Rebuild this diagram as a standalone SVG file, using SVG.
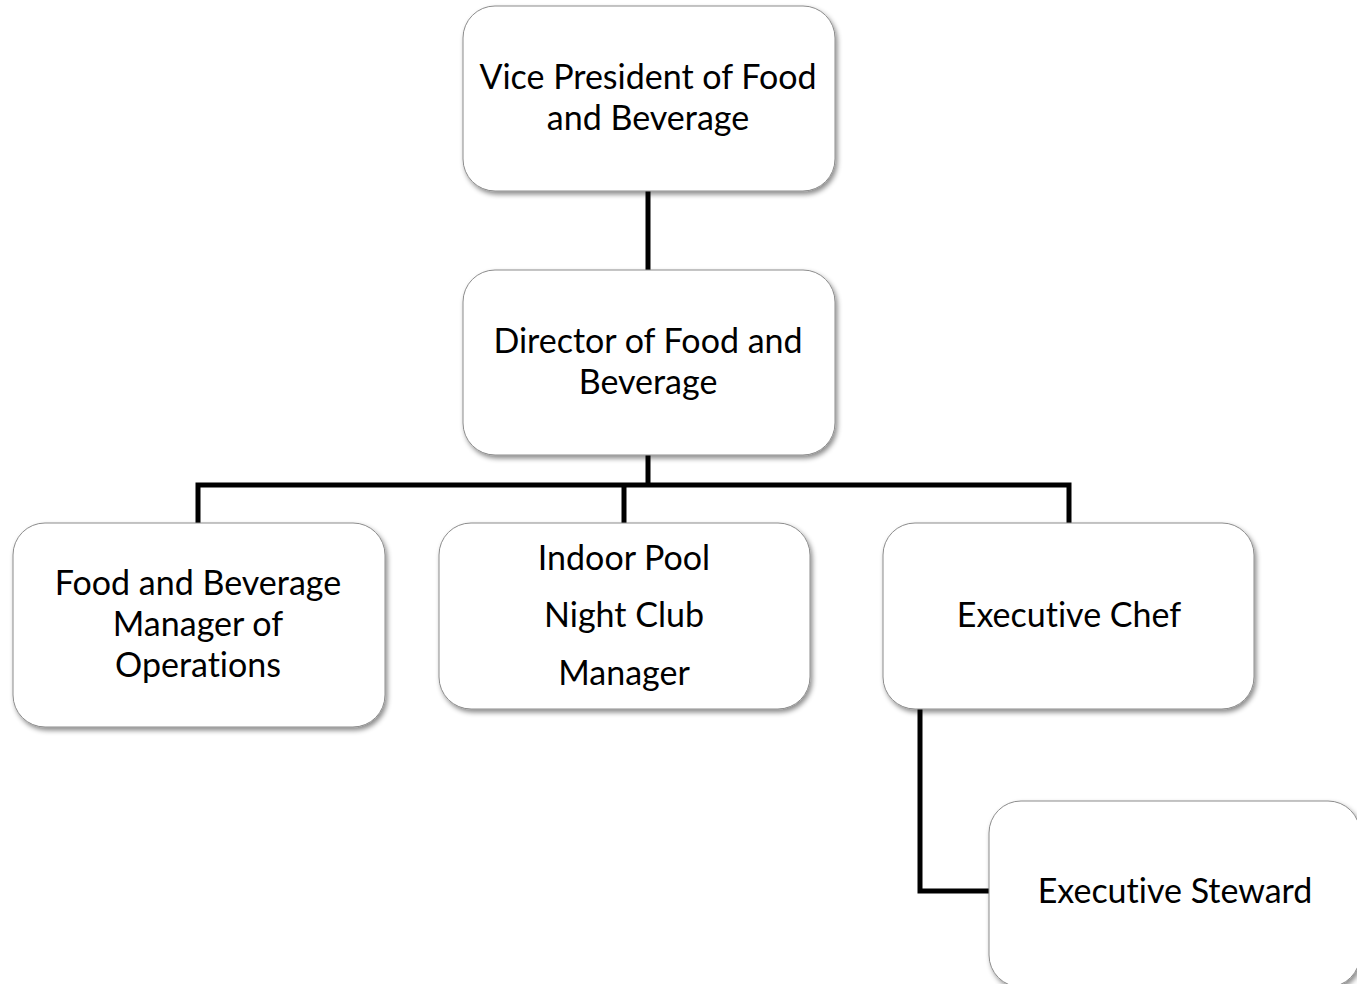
<svg xmlns="http://www.w3.org/2000/svg" width="1357" height="984" viewBox="0 0 1357 984">
<style>
.box{fill:#fff;stroke:#8c8c8c;stroke-width:1;filter:url(#sh)}
.t{font-family:Lato,"Liberation Sans",sans-serif;font-size:34px;fill:#000;text-anchor:middle;font-variant-ligatures:none}
.c{fill:none;stroke:#000;stroke-width:5;stroke-linejoin:miter}
</style>
<defs>
<filter id="sh" x="-10%" y="-10%" width="125%" height="130%">
<feDropShadow dx="2" dy="3" stdDeviation="2.5" flood-color="#000" flood-opacity="0.45"/>
</filter>
</defs>
<rect width="1357" height="984" fill="#fff"/>
<g id="connectors">
<path class="c" d="M648 191V270"/>
<path class="c" d="M648 455V485"/>
<path class="c" d="M198 523V485H1069V523"/>
<path class="c" d="M624 485V523"/>
<path class="c" d="M920 709V891H989"/>
</g>
<g id="vp">
<rect class="box" x="463" y="6" width="372" height="185" rx="32"/>
<text class="t" x="648" y="89">Vice President of Food</text>
<text class="t" x="648" y="130">and Beverage</text>
</g>
<g id="director">
<rect class="box" x="463" y="270" width="372" height="185" rx="32"/>
<text class="t" x="648" y="353">Director of Food and</text>
<text class="t" x="648" y="394">Beverage</text>
</g>
<g id="fbmanager">
<rect class="box" x="13" y="523" width="372" height="204" rx="32"/>
<text class="t" x="198" y="595">Food and Beverage</text>
<text class="t" x="198" y="636">Manager of</text>
<text class="t" x="198" y="677">Operations</text>
</g>
<g id="poolclub">
<rect class="box" x="439" y="523" width="371" height="186" rx="32"/>
<text class="t" x="624" y="570">Indoor Pool</text>
<text class="t" x="624" y="627">Night Club</text>
<text class="t" x="624" y="685">Manager</text>
</g>
<g id="chef">
<rect class="box" x="883" y="523" width="371" height="186" rx="32"/>
<text class="t" x="1069" y="627">Executive Chef</text>
</g>
<g id="steward">
<rect class="box" x="989" y="801" width="371" height="186" rx="32"/>
<text class="t" x="1175" y="903">Executive Steward</text>
</g>
</svg>
